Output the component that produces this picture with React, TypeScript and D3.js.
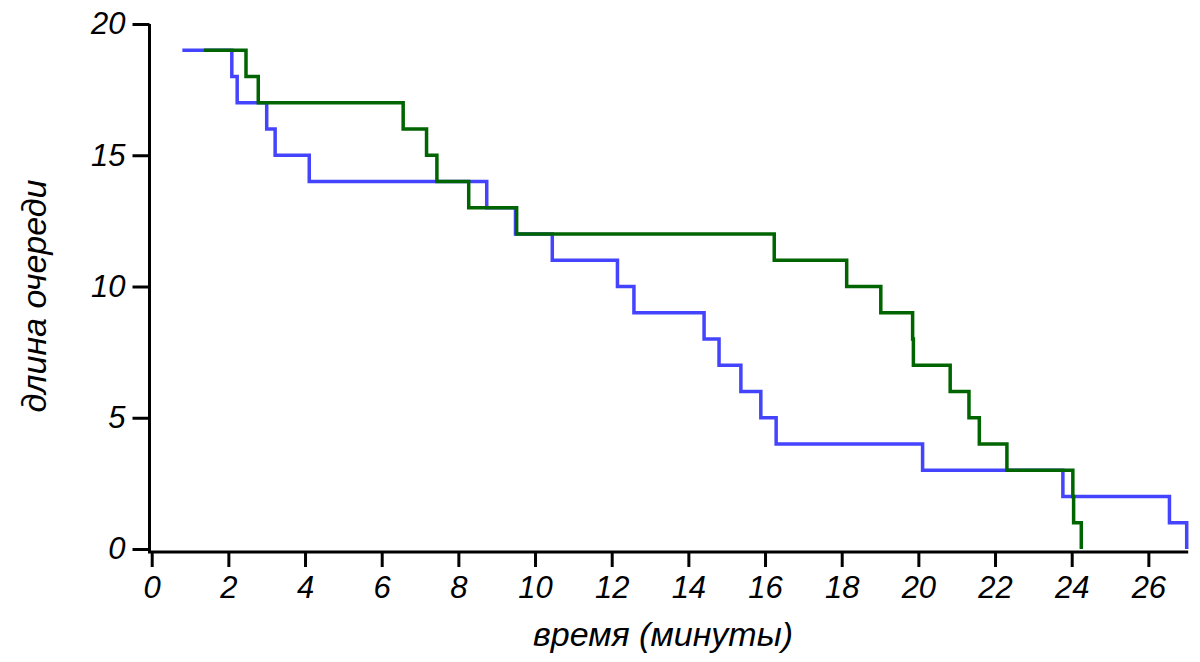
import React, { useEffect, useRef } from "react";
import * as d3 from "d3";

const blueTimes = [0.8, 2.09, 2.23, 3.0, 3.22, 4.11, 8.74, 9.49, 10.45, 12.15, 12.58, 14.41, 14.8, 15.37, 15.89, 16.29, 20.11, 23.77, 26.55, 27.0];
const blueCounts = [19, 18, 17, 16, 15, 14, 13, 12, 11, 10, 9, 8, 7, 6, 5, 4, 3, 2, 1, 0];
const greenTimes = [1.36, 2.46, 2.78, 6.56, 7.17, 7.44, 8.27, 9.52, 16.24, 18.13, 19.02, 19.85, 19.87, 20.83, 21.32, 21.59, 22.31, 24.03, 24.05, 24.25];
const greenCounts = [19, 18, 17, 16, 15, 14, 13, 12, 11, 10, 9, 8, 7, 6, 5, 4, 3, 2, 1, 0];
const xTicks = [0, 2, 4, 6, 8, 10, 12, 14, 16, 18, 20, 22, 24, 26];
const yTicks = [0, 5, 10, 15, 20];
const xTitle = "время (минуты)";
const yTitle = "длина очереди";

const W = 1200;
const H = 662;
const FONT = "'Liberation Sans', Arial, sans-serif";

export default function App() {
  const ref = useRef<SVGSVGElement>(null);
  useEffect(() => {
    const svg = d3.select(ref.current);
    svg.selectAll("*").remove();
    const x = d3.scaleLinear().domain([0, 27]).range([151.7, 1186.7]);
    const y = d3.scaleLinear().domain([0, 20]).range([549, 24]);
    const axisX = 552;
    const axisY = 149.5;

    const xa = svg.append("g").attr("transform", `translate(0,${axisX})`)
      .call(d3.axisBottom(x).tickValues(xTicks).tickSize(15).tickSizeOuter(0).tickPadding(9).tickFormat(d3.format("d")));
    xa.select(".domain").remove();
    xa.selectAll("line").attr("stroke", "#000").attr("stroke-width", 3);
    xa.selectAll("text").attr("font-family", FONT).attr("font-style", "italic").attr("font-size", 31).attr("fill", "#000");

    const ya = svg.append("g").attr("transform", `translate(${axisY},0)`)
      .call(d3.axisLeft(y).tickValues(yTicks).tickSize(17).tickSizeOuter(0).tickPadding(7).tickFormat(d3.format("d")));
    ya.select(".domain").remove();
    ya.selectAll("line").attr("stroke", "#000").attr("stroke-width", 3);
    ya.selectAll("text").attr("font-family", FONT).attr("font-style", "italic").attr("font-size", 31).attr("fill", "#000");

    svg.append("path")
      .attr("d", `M${axisY},${y(20)}V${axisX}H${x(27) + 1.5}`)
      .attr("fill", "none").attr("stroke", "#000").attr("stroke-width", 3);

    const line = d3.line<[number, number]>().x(d => x(d[0])).y(d => y(d[1])).curve(d3.curveStepAfter);
    const bluePts: [number, number][] = blueTimes.map((t, i) => [t, blueCounts[i]]);
    const greenPts: [number, number][] = greenTimes.map((t, i) => [t, greenCounts[i]]);

    svg.append("path").attr("d", line(bluePts)).attr("fill", "none")
      .attr("stroke", "#4444ff").attr("stroke-width", 3.5).attr("stroke-linejoin", "miter");
    svg.append("path").attr("d", line(greenPts)).attr("fill", "none")
      .attr("stroke", "#006400").attr("stroke-width", 3.5).attr("stroke-linejoin", "miter");

    svg.append("text").attr("x", 663).attr("y", 646).attr("text-anchor", "middle")
      .attr("font-family", FONT).attr("font-style", "italic").attr("font-size", 34).text(xTitle);
    svg.append("text").attr("transform", `translate(46,296) rotate(-90)`).attr("text-anchor", "middle")
      .attr("font-family", FONT).attr("font-style", "italic").attr("font-size", 34).text(yTitle);
  }, []);
  return (
    <div style={{ position: "fixed", left: 0, top: 0 }}>
      <svg ref={ref} width={W} height={H} style={{ display: "block", background: "#fff" }} />
    </div>
  );
}
